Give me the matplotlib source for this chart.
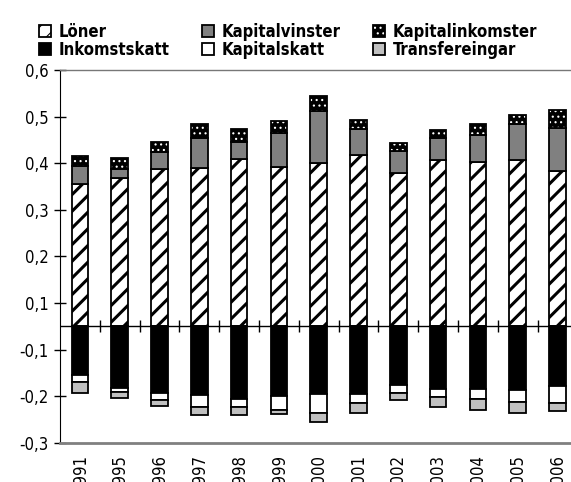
import numpy as np
import matplotlib
matplotlib.use('Agg')
import matplotlib.pyplot as plt
from matplotlib.legend_handler import HandlerTuple

# data (values as they appear against the axis labels)
years = ['1991', '1995', '1996', '1997', '1998', '1999', '2000',
         '2001', '2002', '2003', '2004', '2005', '2006']
loner = [0.355, 0.369, 0.387, 0.390, 0.408, 0.391, 0.400, 0.417, 0.378, 0.406, 0.403, 0.406, 0.384]
kapitalvinster = [0.039, 0.018, 0.037, 0.064, 0.037, 0.073, 0.113, 0.057, 0.048, 0.048, 0.057, 0.079, 0.091]
kapitalinkomster = [0.021, 0.024, 0.021, 0.031, 0.029, 0.026, 0.031, 0.018, 0.018, 0.017, 0.024, 0.018, 0.040]
inkomstskatt = [-0.155, -0.182, -0.193, -0.198, -0.207, -0.200, -0.196, -0.195, -0.177, -0.184, -0.184, -0.186, -0.179]
kapitalskatt = [-0.014, -0.010, -0.015, -0.025, -0.016, -0.029, -0.041, -0.020, -0.016, -0.018, -0.023, -0.027, -0.036]
transfereingar = [-0.024, -0.011, -0.014, -0.018, -0.018, -0.009, -0.018, -0.021, -0.016, -0.021, -0.022, -0.023, -0.017]

tick_labels = ['0,6', '0,5', '0,4', '0,3', '0,2', '0,1', '-0,1', '-0,2', '-0,3']
tick_values = [0.6, 0.5, 0.4, 0.3, 0.2, 0.1, -0.1, -0.2, -0.3]

# the original axis skips zero: 0,1 and -0,1 sit one step apart around the baseline
gap = 0.05

plt.rcParams['font.family'] = ['DejaVu Sans']
plt.rcParams['font.stretch'] = 'condensed'

fig = plt.figure(figsize=(5.71, 4.82), dpi=100)
ax = fig.add_axes([60 / 571, 39.3 / 482, 517.4 / 571, 372.7 / 482])

x = np.arange(len(years))
w = 0.42
lw = 1.3

pos_base = np.array(loner) - gap
neg_base = np.array(inkomstskatt) + gap

# positive side
plt.rcParams['hatch.linewidth'] = 2.2
b1 = ax.bar(x, pos_base, w, color='white', edgecolor='black', hatch='//', lw=lw, zorder=2)
b2 = ax.bar(x, kapitalvinster, w, bottom=pos_base, color='#808080', edgecolor='black', lw=lw, zorder=2)
top2 = pos_base + np.array(kapitalvinster)
plt.rcParams['hatch.linewidth'] = 0.8
b3 = ax.bar(x, kapitalinkomster, w, bottom=top2, color='black', edgecolor='white', hatch='...', lw=0, zorder=2)
b3e = ax.bar(x, kapitalinkomster, w, bottom=top2, fill=False, edgecolor='black', lw=lw, zorder=2)

# negative side
n1 = ax.bar(x, neg_base, w, color='black', edgecolor='black', lw=lw, zorder=2)
n2 = ax.bar(x, kapitalskatt, w, bottom=neg_base, color='white', edgecolor='black', lw=lw, zorder=2)
n3 = ax.bar(x, transfereingar, w, bottom=neg_base + np.array(kapitalskatt),
            color='#c0c0c0', edgecolor='black', lw=lw, zorder=2)

# baseline with category separators
ax.axhline(0, color='black', lw=1, zorder=1)
ax.vlines(x[:-1] + 0.5, -0.013, 0.013, color='black', lw=1, zorder=1)

ax.set_xlim(-0.5, len(years) - 0.5)
ax.set_ylim(-0.25, 0.55)

ypos = [v - gap if v > 0 else v + gap for v in tick_values]
ax.set_yticks(ypos, tick_labels)
ax.tick_params(axis='y', direction='inout', length=8, width=1, labelsize=12, pad=4)
ax.set_xticks(x, years, rotation=90)
ax.tick_params(axis='x', length=0, pad=8, labelsize=12)

ax.spines['right'].set_visible(False)
ax.spines['left'].set_color('black')
ax.spines['top'].set_color('#777777')
ax.spines['top'].set_linewidth(1)
ax.spines['bottom'].set_color('#808080')
ax.spines['bottom'].set_linewidth(2)

# legend, filled column by column
h_ink = (b3.patches[0], b3e.patches[0])
handles = [b1.patches[0], n1.patches[0], b2.patches[0], n2.patches[0], h_ink, n3.patches[0]]
labels = ['Löner', 'Inkomstskatt', 'Kapitalvinster', 'Kapitalskatt', 'Kapitalinkomster', 'Transfereingar']
fig.legend(handles, labels, ncol=3, loc='upper left', bbox_to_anchor=(39 / 571, 1 - 23 / 482),
           frameon=False, borderpad=0, borderaxespad=0, handlelength=0.72, handleheight=0.72,
           handletextpad=0.45, columnspacing=1.95, labelspacing=0.0,
           prop={'weight': 'bold', 'size': 12},
           handler_map={tuple: HandlerTuple(ndivide=1, pad=0)})

fig.savefig('out.png', dpi=100)
